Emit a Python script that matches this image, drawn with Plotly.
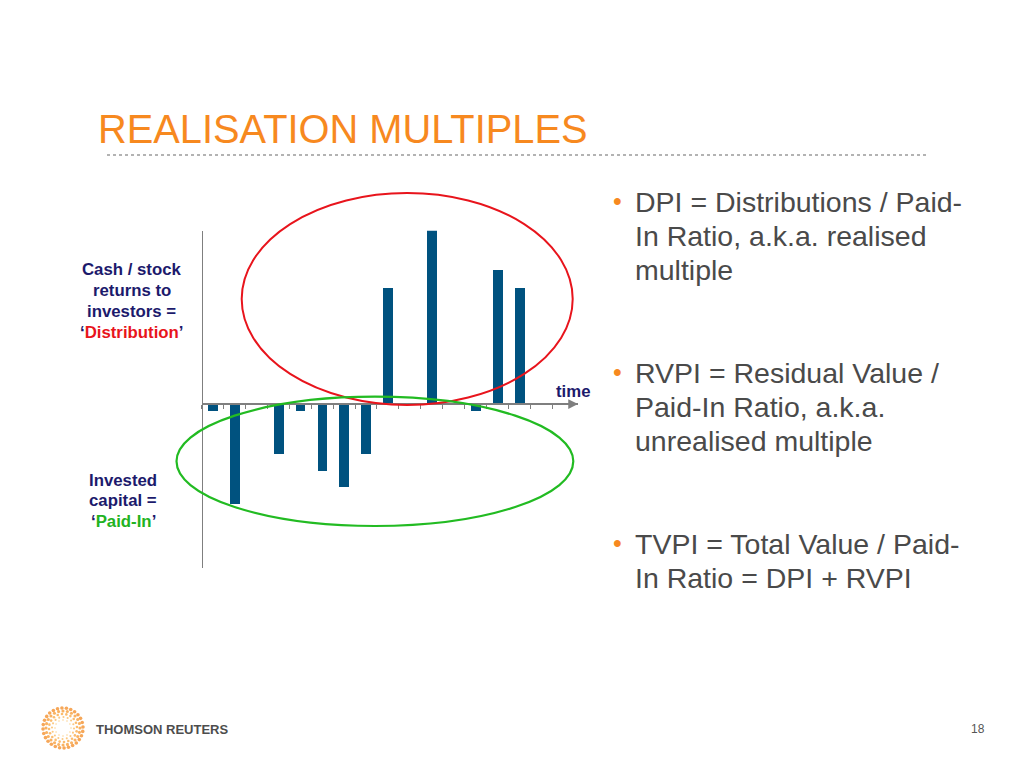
import numpy as np
import plotly.graph_objects as go

# ---------------- data ----------------
periods = list(range(16))
cash_flows = [-0.2, -3.0, None, -1.48, -0.2, -2.0, -2.48, -1.48,
              3.5, None, 5.5, None, -0.2, 4.02, 3.5, None]
tick_edges = [p - 0.5 for p in range(17)]

title_text = "REALISATION MULTIPLES"
bullet_lines = [
    ["DPI = Distributions / Paid-", "In Ratio, a.k.a. realised", "multiple"],
    ["RVPI = Residual Value /", "Paid-In Ratio, a.k.a.", "unrealised multiple"],
    ["TVPI = Total Value / Paid-", "In Ratio = DPI + RVPI"],
]
bullet_tops = [202, 373, 544]

W, H = 1024, 768
OFF = 8  # page body margin
FONT = "Liberation Sans, Arial, sans-serif"
NAVY = "#1c1a6c"
ORANGE = "#f7891f"
GRAY_TXT = "#4a4a4a"
AXIS = "#7f7f7f"
BAR = "#00527f"


def px(x):
    return (x - OFF) / W


def py(y):
    return 1 - (y - OFF) / H


# plot area in pixels
X0, X1 = 201.7, 578.0
YT, YB = 230.7, 568.0
ymin, ymax = -4.92, 5.2
xmin, xmax = -0.5, 16.68

ydom = [py(YB), py(YT)]
xdom = [px(X0), px(X1)]
zero_pos = ydom[0] + (0 - ymin) / (ymax - ymin) * (ydom[1] - ydom[0])

fig = go.Figure()
fig.add_trace(go.Bar(x=periods, y=cash_flows, width=0.45,
                     marker=dict(color=BAR, line=dict(width=0)),
                     showlegend=False, hoverinfo="skip"))

# logo dots
lx, ly, ls, lc = [], [], [], []
rings = [(8.0, 12, 1.6, "#fcc46a"), (11.0, 16, 2.1, "#fbb04a"),
         (14.0, 20, 2.6, "#f9a030"), (17.0, 24, 3.1, "#f6911f"),
         (20.0, 28, 3.6, "#f28212")]
for k, (r, n, s, c) in enumerate(rings):
    for i in range(n):
        a = 2 * np.pi * i / n + k * 0.35
        lx.append(r * np.cos(a))
        ly.append(r * np.sin(a))
        ls.append(s)
        lc.append(c)
fig.add_trace(go.Scatter(x=lx, y=ly, mode="markers", xaxis="x3", yaxis="y3",
                         marker=dict(size=ls, color=lc, line=dict(width=0)),
                         showlegend=False, hoverinfo="skip"))

fig.update_layout(
    width=W, height=H,
    margin=dict(l=0, r=0, t=0, b=0, pad=0),
    paper_bgcolor="white", plot_bgcolor="rgba(0,0,0,0)",
    bargap=0,
    xaxis=dict(domain=xdom, range=[xmin, xmax], anchor="free", position=zero_pos,
               showline=True, linecolor=AXIS, linewidth=1.5,
               tickmode="array", tickvals=tick_edges, ticktext=[""] * len(tick_edges),
               ticks="outside", ticklen=4, tickcolor=AXIS, tickwidth=1,
               showgrid=False, zeroline=False, fixedrange=True),
    yaxis=dict(domain=ydom, range=[ymin, ymax], anchor="free", position=xdom[0],
               showline=True, linecolor=AXIS, linewidth=1.3,
               showticklabels=False, ticks="", showgrid=False, zeroline=False),
    xaxis3=dict(domain=[px(33), px(93)], range=[-30, 30], visible=False,
                anchor="y3"),
    yaxis3=dict(domain=[py(758), py(698)], range=[-30, 30], visible=False,
                anchor="x3"),
    font=dict(family=FONT),
)

shapes = [
    # dotted line under title
    dict(type="line", xref="paper", yref="paper", x0=px(107), x1=px(928),
         y0=py(155), y1=py(155), line=dict(color="#9a9a9a", width=1.5, dash="dot")),
    # red ellipse
    dict(type="circle", xref="paper", yref="paper", x0=px(241.7), x1=px(572.7),
         y0=py(405), y1=py(193), line=dict(color="#e8141c", width=2)),
    # green ellipse
    dict(type="circle", xref="paper", yref="paper", x0=px(176.5), x1=px(573.3),
         y0=py(526), y1=py(396.7), line=dict(color="#22bb22", width=2.2)),
]
fig.update_layout(shapes=shapes)

ann = []
# arrowhead on time axis
ann.append(dict(x=xmax, y=0, ax=15.6, ay=0, xref="x", yref="y", axref="x", ayref="y",
                text="", showarrow=True, arrowhead=2, arrowsize=1.3, arrowwidth=1.5,
                arrowcolor=AXIS))
# title
ann.append(dict(x=px(96), y=py(129), xref="paper", yref="paper", xanchor="left",
                yanchor="middle", text=title_text, showarrow=False,
                font=dict(size=39.8, color=ORANGE, family=FONT)))
# bullets
for lines, top in zip(bullet_lines, bullet_tops):
    ann.append(dict(x=px(617), y=py(top - 1), xref="paper", yref="paper",
                    xanchor="center", yanchor="middle", text="•", showarrow=False,
                    font=dict(size=25, color=ORANGE, family=FONT)))
    for j, line in enumerate(lines):
        ann.append(dict(x=px(633), y=py(top + j * 34), xref="paper", yref="paper",
                        xanchor="left", yanchor="middle", text=line, showarrow=False,
                        font=dict(size=28.5, color=GRAY_TXT, family=FONT)))
# left labels
dist_lines = ["Cash / stock", "returns to", "investors =",
              "‘<span style='color:#e8141c'>Distribution</span>’"]
for j, t in enumerate(dist_lines):
    ann.append(dict(x=px(131.5), y=py(270 + j * 20.7), xref="paper", yref="paper",
                    xanchor="center", yanchor="middle", text="<b>" + t + "</b>",
                    showarrow=False, font=dict(size=16.8, color=NAVY, family=FONT)))
paid_lines = ["Invested", "capital =",
              "‘<span style='color:#22b322'>Paid-In</span>’"]
for j, t in enumerate(paid_lines):
    ann.append(dict(x=px(123), y=py(480 + j * 20.7), xref="paper", yref="paper",
                    xanchor="center", yanchor="middle", text="<b>" + t + "</b>",
                    showarrow=False, font=dict(size=16.8, color=NAVY, family=FONT)))
# time label
ann.append(dict(x=px(573), y=py(391), xref="paper", yref="paper", xanchor="center",
                yanchor="middle", text="<b>time</b>", showarrow=False,
                font=dict(size=16.8, color=NAVY, family=FONT)))
# footer
ann.append(dict(x=px(94), y=py(729), xref="paper", yref="paper", xanchor="left",
                yanchor="middle", text="<b>THOMSON REUTERS</b>", showarrow=False,
                font=dict(size=13, color="#4d4d4d", family=FONT)))
ann.append(dict(x=px(978), y=py(729), xref="paper", yref="paper", xanchor="center",
                yanchor="middle", text="18", showarrow=False,
                font=dict(size=12, color="#555555", family=FONT)))
fig.update_layout(annotations=ann)

fig.write_html("out.html")
